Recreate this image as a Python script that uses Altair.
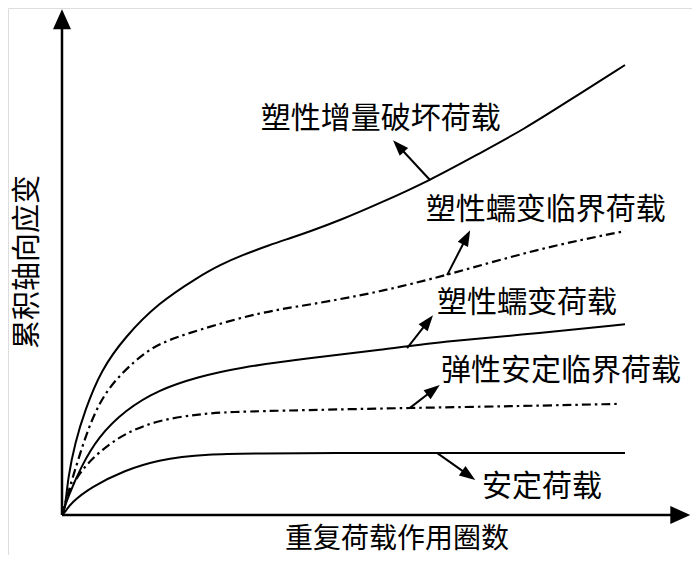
import altair as alt
import pandas as pd
import numpy as np

# pixel-per-unit of the chart frame (x: cycles, y: strain, both in arbitrary 0-100 units)
W, H = 684, 547
X_DOM = [-9.59, 111.9]
Y_DOM = [-8.89, 112.67]
PX_X = W / (X_DOM[1] - X_DOM[0])
PX_Y = H / (Y_DOM[1] - Y_DOM[0])

# ---- curves ----
c1_x = [0, 0.53, 1.07, 2.31, 4.09, 6.93, 11.2, 17.1, 24.2, 28.1, 32.1, 36.9, 40.5, 44.0, 49.4, 56.5, 65.4, 74.2, 81.9, 90.2, 100]
c1_y = [0, 1.1, 8.4, 16.0, 23.3, 32.2, 39.6, 47.1, 52.9, 55.6, 57.8, 60.0, 61.5, 63.0, 65.5, 69.3, 74.4, 80.4, 85.6, 92.2, 100]

c2_x = [0, 1.07, 2.84, 5.15, 8.17, 13.0, 17.1, 24.2, 35.2, 44.0, 56.5, 68.4, 84.9, 100]
c2_y = [0, 4.9, 12.2, 21.1, 28.4, 34.4, 38.2, 41.1, 45.1, 46.7, 49.6, 53.3, 59.3, 63.1]

c3_x = [0, 1.07, 3.37, 6.39, 11.2, 17.1, 24.2, 31.1, 44.0, 56.5, 68.9, 84.9, 100]
c3_y = [0, 4.0, 10.7, 17.3, 23.3, 27.8, 30.7, 32.7, 34.9, 36.7, 38.7, 40.4, 42.4]

c4_x = [0, 1.07, 3.37, 6.93, 11.2, 17.1, 24.2, 29.3, 42.8, 61.8, 81.3, 99.1]
c4_y = [0, 4.9, 10.0, 14.4, 18.2, 21.1, 22.4, 22.9, 23.3, 23.8, 24.2, 24.7]

c5_x = [0, 0.53, 1.6, 5.15, 11.2, 17.1, 24.2, 42.3, 100]
c5_y = [0, 0.6, 2.7, 6.2, 10.0, 12.2, 13.6, 13.8, 13.8]

# ---- labels ----
labels = ["塑性增量破坏荷载", "塑性蠕变临界荷载", "塑性蠕变荷载", "弹性安定临界荷载", "安定荷载"]
label_x = [35.3, 64.6, 66.6, 67.3, 74.6]
label_y = [87.9, 67.7, 47.2, 32.1, 6.3]

# ---- pointer arrows: base (on curve) -> tip ----
arr_bx = [65.4, 68.4, 61.3, 61.8, 66.6]
arr_by = [74.4, 53.3, 37.1, 23.8, 13.8]
arr_tx = [58.8, 72.5, 65.9, 67.1, 73.4]
arr_ty = [83.3, 63.3, 44.4, 28.9, 7.8]

x_title = "重复荷载作用圈数"
y_title = "累积轴向应变"
AX_X_END = 111.6
AX_Y_END = 112.4

FONT = "Noto Sans CJK SC"
xs = alt.Scale(domain=X_DOM, nice=False, zero=False)
ys = alt.Scale(domain=Y_DOM, nice=False, zero=False)
X = lambda f="x": alt.X(f"{f}:Q", scale=xs, axis=None)
Y = lambda f="y": alt.Y(f"{f}:Q", scale=ys, axis=None)

def curves_df(lst):
    rows = []
    for i, (xx, yy) in enumerate(lst):
        for j, (a, b) in enumerate(zip(xx, yy)):
            rows.append({"c": i, "x": a, "y": b, "o": j})
    return pd.DataFrame(rows)

solid = curves_df([(c1_x, c1_y), (c3_x, c3_y), (c5_x, c5_y)])
dashed = curves_df([(c2_x, c2_y), (c4_x, c4_y)])

solid_layer = alt.Chart(solid).mark_line(
    color="black", strokeWidth=2, interpolate="basis"
).encode(x=X(), y=Y(), detail="c:N", order="o:Q")

dashed_layer = alt.Chart(dashed).mark_line(
    color="black", strokeWidth=2.2, interpolate="basis", strokeDash=[9, 4, 2.5, 4]
).encode(x=X(), y=Y(), detail="c:N", order="o:Q")

def arrow_frame(bx, by, tx, ty, head_px):
    rows = []
    for a, b, c, d in zip(bx, by, tx, ty):
        dxp = (c - a) * PX_X
        dyp = (d - b) * PX_Y
        L = np.hypot(dxp, dyp)
        ang = (np.degrees(np.arctan2(dxp, dyp)) + 360) % 360
        sh = head_px * 0.6 / L
        rows.append({"bx": a, "by": b, "tx": c, "ty": d,
                     "ex": c - (c - a) * sh, "ey": d - (d - b) * sh, "ang": ang})
    return pd.DataFrame(rows)

HEAD = 16
adf = arrow_frame(arr_bx, arr_by, arr_tx, arr_ty, HEAD)
shaft = alt.Chart(adf).mark_rule(color="black", strokeWidth=2).encode(
    x=X("bx"), y=Y("by"), x2="ex:Q", y2="ey:Q")
head = alt.Chart(adf).mark_point(
    shape="M0,0L0.36,1L-0.36,1Z", filled=True, color="black", opacity=1,
    size=(2 * HEAD) ** 2, strokeWidth=0
).encode(x=X("tx"), y=Y("ty"), angle=alt.Angle("ang:Q", scale=None))

AXH = 20
axdf = arrow_frame([0, 0], [0, 0], [AX_X_END, 0], [0, AX_Y_END], AXH * 1.2)
ax_lines = alt.Chart(axdf).mark_rule(color="black", strokeWidth=2.5).encode(
    x=X("bx"), y=Y("by"), x2="ex:Q", y2="ey:Q")
ax_heads = alt.Chart(axdf).mark_point(
    shape="M0,0L0.45,1L-0.45,1Z", filled=True, color="black", opacity=1,
    size=(2 * AXH) ** 2, strokeWidth=0
).encode(x=X("tx"), y=Y("ty"), angle=alt.Angle("ang:Q", scale=None))

ldf = pd.DataFrame({"x": label_x, "y": label_y, "t": labels})
label_layer = alt.Chart(ldf).mark_text(
    align="left", baseline="middle", fontSize=30, font=FONT, color="black"
).encode(x=X(), y=Y(), text="t:N")

xt = alt.Chart(pd.DataFrame({"x": [59.5], "y": [-5.56], "t": [x_title]})).mark_text(
    align="center", baseline="middle", fontSize=28, font=FONT, color="black"
).encode(x=X(), y=Y(), text="t:N")

yt = alt.Chart(pd.DataFrame({"x": [-6.04], "y": [56.2], "t": [y_title]})).mark_text(
    align="center", baseline="middle", fontSize=29, font=FONT, color="black", angle=270
).encode(x=X(), y=Y(), text="t:N")

chart = alt.layer(
    solid_layer, dashed_layer, shaft, head, ax_lines, ax_heads, label_layer, xt, yt
).properties(
    width=W, height=H, padding=0, autosize=alt.AutoSizeParams(type="none")
).configure_view(stroke=None).configure(background="white")

chart.save("out.html", embed_options={"renderer": "svg", "actions": False})
